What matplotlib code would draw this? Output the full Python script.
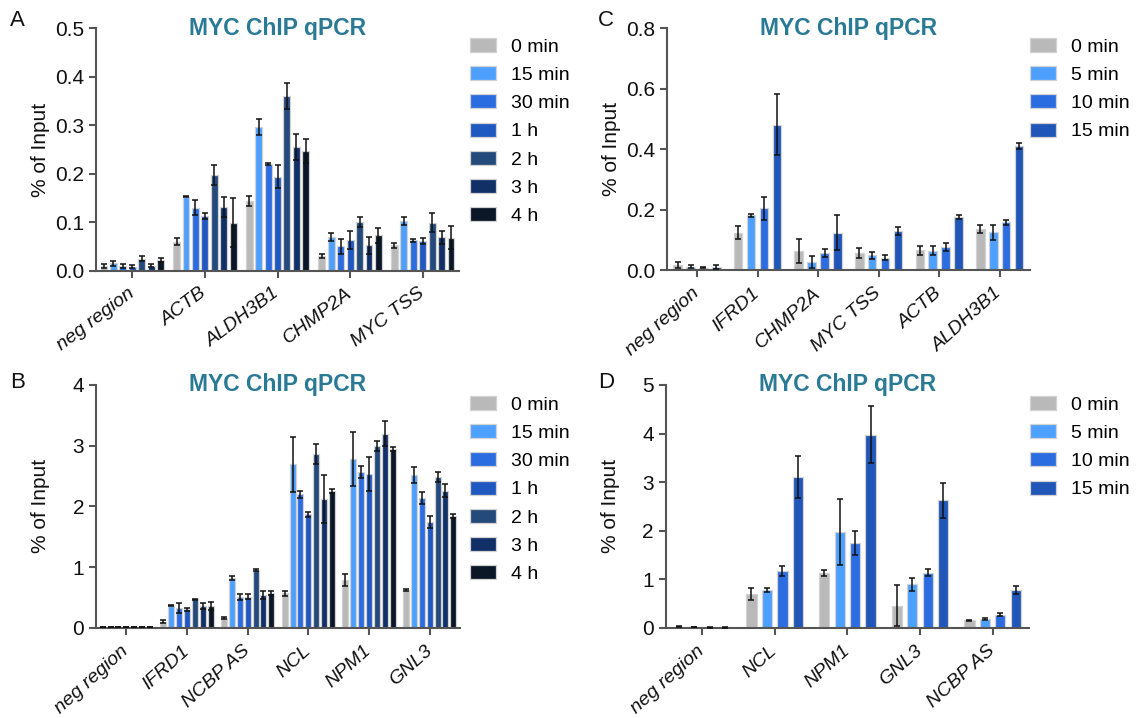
import matplotlib
matplotlib.use("Agg")
import matplotlib.pyplot as plt
import numpy as np

plt.rcParams['font.family'] = ['Liberation Sans', 'DejaVu Sans']

# ---------------- data ----------------
labels7 = ['0 min', '15 min', '30 min', '1 h', '2 h', '3 h', '4 h']
colors7 = ['#b9b9b9', '#4da0ff', '#2b6ce0', '#2058c2', '#244a7c', '#123068', '#0b1626']
labels4 = ['0 min', '5 min', '10 min', '15 min']
colors4 = ['#b9b9b9', '#4da0ff', '#2b6ce0', '#1f56b8']

# Panel A
catA = ['neg region', 'ACTB', 'ALDH3B1', 'CHMP2A', 'MYC TSS']
valA = [  # rows: time points, cols: categories
    [0.010, 0.060, 0.144, 0.030, 0.052],
    [0.015, 0.153, 0.296, 0.070, 0.102],
    [0.010, 0.130, 0.220, 0.050, 0.063],
    [0.008, 0.113, 0.194, 0.063, 0.061],
    [0.025, 0.197, 0.360, 0.101, 0.099],
    [0.010, 0.131, 0.255, 0.052, 0.069],
    [0.022, 0.099, 0.247, 0.073, 0.068],
]
errA = [
    [0.004, 0.008, 0.010, 0.004, 0.006],
    [0.006, 0.002, 0.017, 0.008, 0.008],
    [0.004, 0.015, 0.002, 0.015, 0.003],
    [0.003, 0.006, 0.023, 0.018, 0.006],
    [0.006, 0.020, 0.027, 0.010, 0.019],
    [0.003, 0.020, 0.026, 0.018, 0.013],
    [0.004, 0.050, 0.024, 0.016, 0.024],
]

# Panel B
catB = ['neg region', 'IFRD1', 'NCBP AS', 'NCL', 'NPM1', 'GNL3']
valB = [
    [0.01, 0.10, 0.16, 0.57, 0.79, 0.62],
    [0.01, 0.36, 0.82, 2.69, 2.78, 2.52],
    [0.01, 0.32, 0.50, 2.20, 2.56, 2.14],
    [0.01, 0.30, 0.51, 1.87, 2.53, 1.74],
    [0.01, 0.47, 0.95, 2.86, 2.99, 2.48],
    [0.01, 0.36, 0.54, 2.12, 3.20, 2.26],
    [0.01, 0.36, 0.57, 2.25, 2.94, 1.84],
]
errB = [
    [0.003, 0.03, 0.01, 0.04, 0.10, 0.02],
    [0.003, 0.01, 0.04, 0.45, 0.44, 0.13],
    [0.003, 0.08, 0.05, 0.06, 0.10, 0.10],
    [0.003, 0.03, 0.04, 0.04, 0.28, 0.10],
    [0.003, 0.01, 0.02, 0.17, 0.08, 0.08],
    [0.003, 0.05, 0.06, 0.39, 0.21, 0.11],
    [0.003, 0.07, 0.03, 0.03, 0.03, 0.03],
]

# Panel C
catC = ['neg region', 'IFRD1', 'CHMP2A', 'MYC TSS', 'ACTB', 'ALDH3B1']
valC = [
    [0.017, 0.123, 0.064, 0.056, 0.066, 0.135],
    [0.011, 0.182, 0.025, 0.048, 0.064, 0.125],
    [0.007, 0.204, 0.055, 0.040, 0.075, 0.158],
    [0.009, 0.481, 0.124, 0.129, 0.176, 0.410],
]
errC = [
    [0.010, 0.021, 0.040, 0.017, 0.015, 0.013],
    [0.005, 0.005, 0.020, 0.012, 0.014, 0.025],
    [0.002, 0.039, 0.013, 0.008, 0.013, 0.008],
    [0.007, 0.100, 0.058, 0.012, 0.007, 0.010],
]

# Panel D
catD = ['neg region', 'NCL', 'NPM1', 'GNL3', 'NCBP AS']
valD = [
    [0.02, 0.69, 1.13, 0.45, 0.15],
    [0.01, 0.77, 1.98, 0.89, 0.18],
    [0.005, 1.17, 1.74, 1.13, 0.27],
    [0.005, 3.10, 3.98, 2.63, 0.78],
]
errD = [
    [0.01, 0.12, 0.06, 0.42, 0.01],
    [0.005, 0.04, 0.68, 0.13, 0.03],
    [0.003, 0.11, 0.25, 0.07, 0.03],
    [0.003, 0.43, 0.59, 0.36, 0.08],
]

W, H = 1137, 718
fig = plt.figure(figsize=(W / 100, H / 100), dpi=100)

TITLE_COLOR = '#2a7a96'
SPINE = '#555555'


def px_axes(left, top, right, bottom):
    return fig.add_axes([left / W, 1 - bottom / H, (right - left) / W, (bottom - top) / H])


def panel(ax, cats, vals, errs, labels, colors, slot, width, ymax, yticks, fmt, capsize, rot):
    n = len(vals)
    x = np.arange(len(cats))
    handles = []
    for i in range(n):
        off = (i - (n - 1) / 2) * slot
        b = ax.bar(x + off, vals[i], width=width, color=colors[i],
                   edgecolor='#d2d2d2', linewidth=0.9, label=labels[i], zorder=2)
        ax.errorbar(x + off, vals[i], yerr=errs[i], fmt='none', ecolor='#111111',
                    elinewidth=1.1, capsize=capsize, capthick=1.1, zorder=3)
        handles.append(b)
    ax.set_xlim(-0.5, len(cats) - 0.5)
    ax.set_ylim(0, ymax)
    ax.set_yticks(yticks)
    ax.set_yticklabels([fmt.format(v) for v in yticks], fontsize=15)
    ax.set_xticks(x)
    ax.set_xticklabels(cats, rotation=rot, ha='right', va='center', rotation_mode='anchor',
                       fontsize=14, style='italic')
    for s in ['top', 'right']:
        ax.spines[s].set_visible(False)
    for s in ['left', 'bottom']:
        ax.spines[s].set_color(SPINE)
        ax.spines[s].set_linewidth(1.5)
    ax.tick_params(axis='both', colors=SPINE, width=1.5, length=5, labelcolor='#111111')
    ax.tick_params(axis='x', pad=10)
    ax.set_ylabel('% of Input', fontsize=15, color='#111111')
    ax.yaxis.set_label_coords(-0.127, 0.5)
    ax.text(0.5, 1.0, 'MYC ChIP qPCR', transform=ax.transAxes, ha='center', va='center',
            fontsize=16.5, fontweight='bold', color=TITLE_COLOR)
    return handles


def add_legend(ax, handles, labels, x, y):
    ax.legend(handles, labels, loc='upper left', bbox_to_anchor=(x / W, 1 - y / H),
              bbox_transform=fig.transFigure, frameon=False, fontsize=14,
              handlelength=1.35, handleheight=0.72, handletextpad=0.75,
              labelspacing=0.54, borderpad=0, borderaxespad=0)


axA = px_axes(96, 28.3, 459, 270.7)
hA = panel(axA, catA, valA, errA, labels7, colors7, 0.13, 0.095, 0.5,
           [0, 0.1, 0.2, 0.3, 0.4, 0.5], '{:.1f}', 2, 37)
add_legend(axA, hA, labels7, 470, 38)

axB = px_axes(96, 385, 460, 627.7)
hB = panel(axB, catB, valB, errB, labels7, colors7, 0.13, 0.10, 4,
           [0, 1, 2, 3, 4], '{:.0f}', 2, 42)
add_legend(axB, hB, labels7, 470, 396)

axC = px_axes(666.7, 28.3, 1030, 270)
hC = panel(axC, catC, valC, errC, labels4, colors4, 0.213, 0.14, 0.8,
           [0, 0.2, 0.4, 0.6, 0.8], '{:.1f}', 2.5, 42)
add_legend(axC, hC, labels4, 1030, 38)

axD = px_axes(665.7, 385, 1029, 627.7)
hD = panel(axD, catD, valD, errD, labels4, colors4, 0.213, 0.14, 5,
           [0, 1, 2, 3, 4, 5], '{:.0f}', 2.5, 42)
add_legend(axD, hD, labels4, 1030, 396)

for lab, (x, y) in zip('ABCD', [(10, 10), (10, 372), (598, 10), (598, 372)]):
    fig.text(x / W, 1 - y / H, lab, ha='left', va='top', fontsize=16, color='#111111')

fig.savefig('out.png', dpi=100)
